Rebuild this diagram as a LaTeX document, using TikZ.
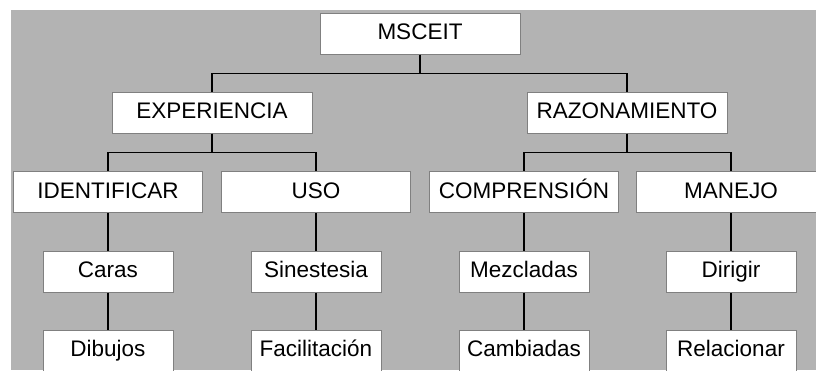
\documentclass[tikz,border=0pt]{standalone}
\usepackage{fontspec}
\setmainfont{Liberation Sans}
\usepackage{tikz}
\definecolor{bggray}{RGB}{179,179,179}
\definecolor{framegray}{RGB}{128,128,128}
\tikzstyle{box}=[%
	draw = framegray,
	fill = white,
	line width = 1pt,
	inner sep = 0pt,
	text height = 16pt,
	text depth = 4pt,
	minimum height = 41pt,
	font = \fontsize{22.5}{26}\selectfont
]
\tikzstyle{wide}=[box, minimum width = 200pt]
\tikzstyle{mid}=[box, minimum width = 189pt]
\tikzstyle{small}=[box, minimum width = 130pt]
\tikzstyle{link}=[black, line width = 1.2pt]

\begin{document}
\begin{tikzpicture}[x=1pt, y=-1pt]
	% Background, frame
	\useasboundingbox (0,0) rectangle (816,370);
	\fill[bggray] (11,10) rectangle (816,370);
	\clip (11,10) rectangle (816,370);

	% % Nodes
	\node[wide] (msceit) at (420,33.5) {MSCEIT};
	\node[wide] (exp) at (212,112.5) {EXPERIENCIA};
	\node[wide] (raz) at (627,112.5) {RAZONAMIENTO};

	\node[mid] (ide) at (108,192) {IDENTIFICAR};
	\node[mid] (uso) at (316,192) {USO};
	\node[mid] (com) at (524,192) {COMPRENSIÓN};
	\node[mid] (man) at (731,192) {MANEJO};

	\node[small] (car) at (108,271.5) {Caras};
	\node[small] (dib) at (108,350.5) {Dibujos};
	\node[small] (sin) at (316,271.5) {Sinestesia};
	\node[small] (fac) at (316,350.5) {Facilitación};
	\node[small] (mez) at (524,271.5) {Mezcladas};
	\node[small] (cam) at (524,350.5) {Cambiadas};
	\node[small] (dir) at (731,271.5) {Dirigir};
	\node[small] (rel) at (731,350.5) {Relacionar};

	% % Lines
	\foreach \p/\c in {msceit/exp, msceit/raz, exp/ide, exp/uso, raz/com, raz/man} {
		\draw[link] (\p.south) -- ++(0,19) -| (\c.north);
	}
	\foreach \a/\b in {ide/car, car/dib, uso/sin, sin/fac, com/mez, mez/cam, man/dir, dir/rel} {
		\draw[link] (\a.south) -- (\b.north);
	}
\end{tikzpicture}
\end{document}
